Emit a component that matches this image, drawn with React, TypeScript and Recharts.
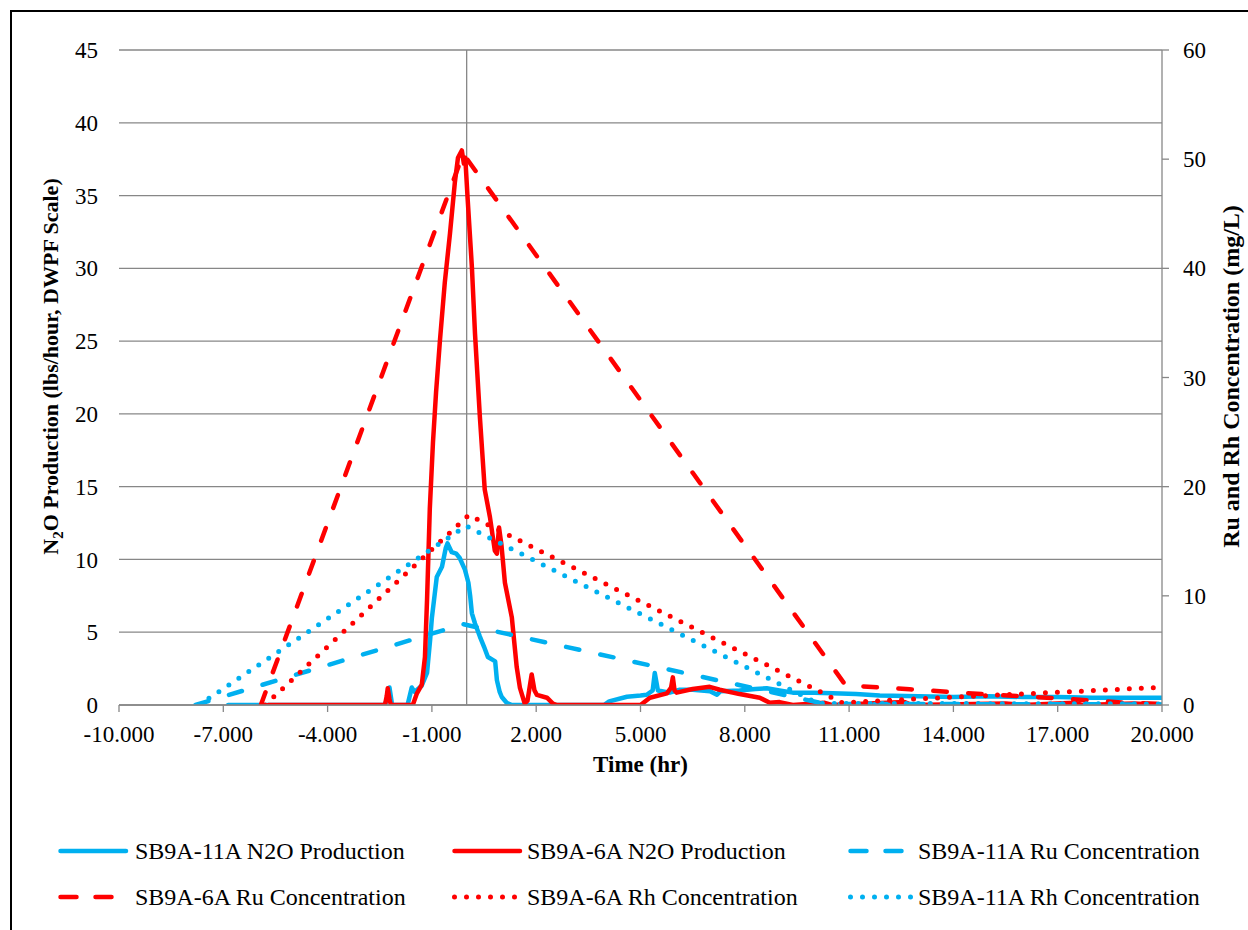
import { LineChart, Line, XAxis, YAxis, CartesianGrid, ReferenceLine, Label } from "recharts";

const xTicks = [-10, -7, -4, -1, 2, 5, 8, 11, 14, 17, 20];
const leftTicks = [0, 5, 10, 15, 20, 25, 30, 35, 40, 45];
const rightTicks = [0, 10, 20, 30, 40, 50, 60];

// SB9A-11A N2O production (lbs/hr, left axis)
const n2o11aTime = [
  -6.86, -2.35, -2.27, -2.22, -2.15, -2.1, -1.7, -1.62, -1.58, -1.5, -1.3, -1.14, -1.05, -1.0, -0.86,
  -0.71, -0.6, -0.55, -0.43, -0.3, -0.2, -0.05, 0.05, 0.1, 0.15, 0.24, 0.38, 0.5, 0.61, 0.75, 0.82,
  0.87, 0.95, 1.01, 1.15, 1.3, 3.95, 4.1, 4.61, 5.0, 5.18, 5.35, 5.41, 5.5, 5.84, 6.13, 6.5, 7.0,
  7.2, 7.3, 7.85, 8.3, 8.63, 9.0, 9.38, 10.0, 10.53, 11.2, 11.88, 13.0, 14.0, 15.0, 16.0, 17.0,
  18.0, 19.0, 20.0,
];
const n2o11aRate = [
  0, 0, 0.6, 1.2, 0.1, 0, 0, 0.8, 1.2, 0.9, 1.3, 2.2, 4.5, 6.0, 8.8,
  9.5, 10.8, 11.1, 10.5, 10.4, 10.1, 9.3, 8.4, 7.5, 6.3, 5.6, 4.7, 4.0, 3.3, 3.1, 3.0,
  1.7, 0.9, 0.55, 0.15, 0, 0, 0.25, 0.57, 0.65, 0.7, 1.0, 2.2, 1.0, 0.85, 1.05, 1.05, 0.95,
  0.7, 0.95, 1.0, 1.1, 1.15, 1.0, 0.85, 0.85, 0.8, 0.75, 0.65, 0.6, 0.55, 0.6, 0.55, 0.55,
  0.5, 0.5, 0.5,
];

// SB9A-6A N2O production (lbs/hr, left axis)
const n2o6aTime = [
  -5.7, -2.35, -2.3, -2.27, -2.22, -2.18, -1.55, -1.43, -1.29, -1.2, -1.14, -1.06, -0.97, -0.88,
  -0.77, -0.63, -0.48, -0.34, -0.25, -0.14, -0.08, -0.04, 0.03, 0.15, 0.24, 0.38, 0.52, 0.67, 0.81,
  0.87, 0.93, 1.0, 1.1, 1.3, 1.44, 1.53, 1.67, 1.75, 1.87, 1.95, 2.02, 2.31, 2.48, 2.6, 5.0, 5.27,
  5.76, 5.88, 5.93, 5.98, 6.04, 6.5, 6.99, 7.28, 7.85, 8.43, 8.72, 9.0, 9.38, 10.3, 10.5, 12.6,
  12.8, 15.5, 16.0, 17.5, 17.7, 19.2, 20.0,
];
const n2o6aRate = [
  0, 0, 0.6, 1.15, 0.4, 0, 0, 0.8, 1.4, 3.3, 7.2, 13.5, 18.0, 21.5,
  25.0, 29.0, 32.4, 35.9, 37.6, 38.1, 37.2, 37.6, 34.7, 30.1, 25.5, 19.8, 14.8, 12.9, 10.6,
  10.4, 12.2, 11.0, 8.4, 6.0, 2.6, 1.2, 0.1, 0.3, 2.1, 1.0, 0.7, 0.5, 0.1, 0, 0, 0.5,
  0.8, 1.2, 1.9, 1.0, 0.85, 1.1, 1.25, 1.05, 0.75, 0.5, 0.15, 0.2, 0, 0.15, 0, 0.2,
  0, 0.1, 0, 0.15, 0, 0.1, 0,
];

// Ru concentrations (mg/L, right axis)
const ru11aTime = [-7.8, -0.1, 10.3, 20.0];
const ru11aConc = [0, 7.4, 0.1, 0.05];
const ru6aTime = [-5.92, -0.1, 10.9, 12.74, 14.81, 16.85, 18.98, 20.0];
const ru6aConc = [0, 50.5, 1.8, 1.44, 1.0, 0.64, 0.21, 0.1];

// Rh concentrations (mg/L, right axis)
const rh6aTime = [-5.8, 0.06, 10.8, 12.3, 20.0];
const rh6aConc = [0, 17.4, 0.2, 0.46, 1.62];
const rh11aTime = [-7.7, -0.02, 10.1, 20.0];
const rh11aConc = [0, 16.4, 0.15, 0.1];

const toPoints = (t: number[], v: number[]) => t.map((time, i) => ({ time, value: v[i] }));

const BLUE = "#00B0F0";
const RED = "#FF0000";
const GRID = "#878787";
const FONT = "Liberation Serif, DejaVu Serif, serif";

const DASH = "13.5 21.5";
const DOT = "0 12";

const series = [
  { name: "SB9A-11A N2O Production", color: BLUE, axis: "left", dash: undefined, width: 4.5, data: toPoints(n2o11aTime, n2o11aRate) },
  { name: "SB9A-6A N2O Production", color: RED, axis: "left", dash: undefined, width: 4.5, data: toPoints(n2o6aTime, n2o6aRate) },
  { name: "SB9A-11A Ru Concentration", color: BLUE, axis: "right", dash: DASH, width: 4.5, data: toPoints(ru11aTime, ru11aConc) },
  { name: "SB9A-6A Ru Concentration", color: RED, axis: "right", dash: DASH, width: 4.5, data: toPoints(ru6aTime, ru6aConc) },
  { name: "SB9A-6A Rh Concentration", color: RED, axis: "right", dash: DOT, width: 5, data: toPoints(rh6aTime, rh6aConc) },
  { name: "SB9A-11A Rh Concentration", color: BLUE, axis: "right", dash: DOT, width: 5, data: toPoints(rh11aTime, rh11aConc) },
];

const legendDash = (dash?: string) => (dash === DASH ? "16 19" : dash);

const XTitle = (props: any) => {
  const { x, y, width } = props.viewBox;
  return (
    <text x={x + width / 2} y={y + 67} textAnchor="middle" fontFamily={FONT} fontWeight="bold" fontSize={23} fill="#000">
      Time (hr)
    </text>
  );
};

const LeftTitle = (props: any) => {
  const { x, y, height } = props.viewBox;
  const bx = x + 58;
  const cy = y + height / 2 - 11;
  return (
    <text x={bx} y={cy} transform={`rotate(-90, ${bx}, ${cy})`} textAnchor="middle" fontFamily={FONT} fontWeight="bold" fontSize={22} fill="#000">
      N<tspan dy={5} fontSize={15}>2</tspan>
      <tspan dy={-5}>O Production (lbs/hour, DWPF Scale)</tspan>
    </text>
  );
};

const RightTitle = (props: any) => {
  const { x, y, height } = props.viewBox;
  const bx = x + 77;
  const cy = y + height / 2 - 1;
  return (
    <text x={bx} y={cy} transform={`rotate(-90, ${bx}, ${cy})`} textAnchor="middle" fontFamily={FONT} fontWeight="bold" fontSize={24} fill="#000">
      Ru and Rh Concentration (mg/L)
    </text>
  );
};

const sampleLeft = [58, 452, 848];
const textLeft = [135, 527, 918];
const rowCenter = [851, 897];

export default function App() {
  const tickStyle = { fontSize: 23, fill: "#000", fontFamily: FONT };
  return (
    <div style={{ position: "absolute", left: 0, top: 0, width: 1248, height: 930, background: "#fff", fontFamily: FONT }}>
      <div
        style={{
          position: "absolute",
          left: 10,
          top: 10,
          width: 1260,
          height: 940,
          borderLeft: "2px solid #000",
          borderTop: "2px solid #000",
        }}
      />
      <div style={{ position: "absolute", left: 0, top: 0 }}>
        <LineChart width={1248} height={930} margin={{ top: 50, right: 0, left: 0, bottom: 145 }}>
          <CartesianGrid vertical={false} stroke={GRID} strokeWidth={1.3} yAxisId="left" />
          <XAxis
            dataKey="time"
            type="number"
            domain={[-10, 20]}
            ticks={xTicks}
            interval={0}
            allowDataOverflow
            tickFormatter={(v: number) => v.toFixed(3)}
            tick={tickStyle}
            axisLine={{ stroke: GRID, strokeWidth: 1.3 }}
            tickLine={{ stroke: GRID, strokeWidth: 1.3 }}
            tickSize={7}
            tickMargin={14}
            height={80}
          >
            <Label content={XTitle} />
          </XAxis>
          <YAxis
            yAxisId="left"
            orientation="left"
            domain={[0, 45]}
            ticks={leftTicks}
            interval={0}
            allowDataOverflow
            width={119}
            axisLine={false}
            tickLine={false}
            tickSize={7}
            tickMargin={14}
            tick={tickStyle}
          >
            <Label content={LeftTitle} />
          </YAxis>
          <YAxis
            yAxisId="right"
            orientation="right"
            domain={[0, 60]}
            ticks={rightTicks}
            interval={0}
            allowDataOverflow
            width={86}
            axisLine={{ stroke: GRID, strokeWidth: 1.3 }}
            tickLine={{ stroke: GRID, strokeWidth: 1.3 }}
            tickSize={7}
            tickMargin={14}
            tick={tickStyle}
          >
            <Label content={RightTitle} />
          </YAxis>
          <ReferenceLine x={0} yAxisId="left" stroke={GRID} strokeWidth={1.3} />
          {series.map((s) => (
            <Line
              key={s.name}
              data={s.data}
              dataKey="value"
              name={s.name}
              yAxisId={s.axis}
              type="linear"
              stroke={s.color}
              strokeWidth={s.width}
              strokeDasharray={s.dash}
              strokeLinecap="round"
              strokeLinejoin="round"
              dot={false}
              activeDot={false}
              isAnimationActive={false}
            />
          ))}
        </LineChart>
      </div>
      {series.map((s, i) => {
        const col = i % 3;
        const row = Math.floor(i / 3);
        const cy = rowCenter[row];
        return (
          <div key={s.name}>
            <svg style={{ position: "absolute", left: sampleLeft[col], top: cy - 6 }} width={72} height={12}>
              <line
                x1={2.5}
                x2={68}
                y1={6}
                y2={6}
                stroke={s.color}
                strokeWidth={s.dash === DOT ? 5 : 4.5}
                strokeLinecap="round"
                strokeDasharray={legendDash(s.dash)}
              />
            </svg>
            <div
              style={{
                position: "absolute",
                left: textLeft[col],
                top: cy - 15,
                height: 30,
                lineHeight: "30px",
                fontSize: 24,
                color: "#000",
                whiteSpace: "nowrap",
              }}
            >
              {s.name}
            </div>
          </div>
        );
      })}
    </div>
  );
}
